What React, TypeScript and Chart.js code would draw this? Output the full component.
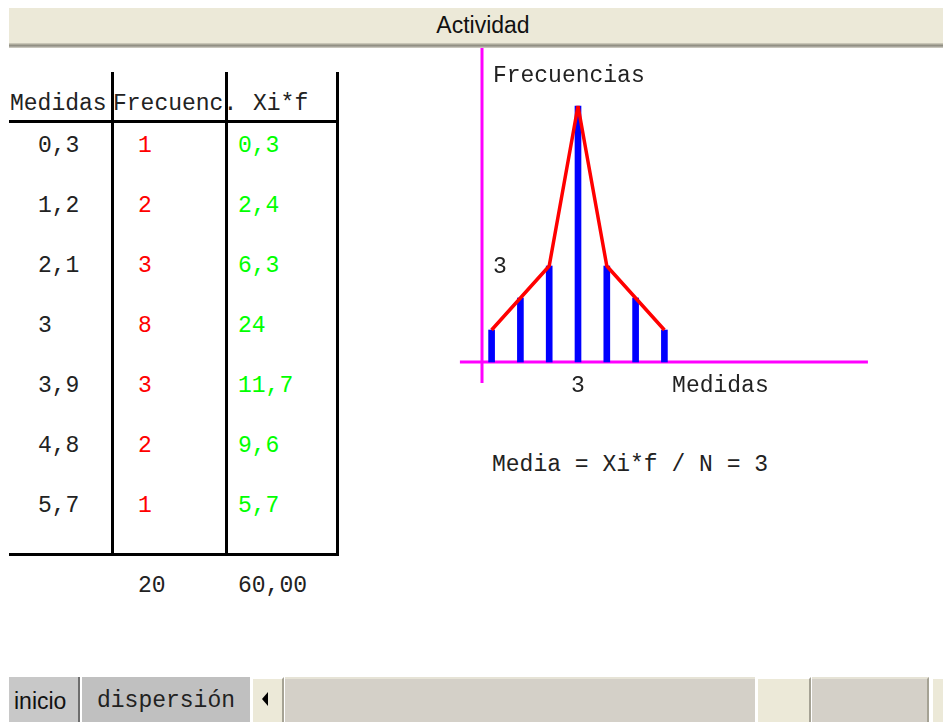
import React, { useEffect, useRef } from "react";
import { Chart, registerables } from "chart.js";

Chart.register(...registerables);

// ---- data ----
const medidas = [0.3, 1.2, 2.1, 3, 3.9, 4.8, 5.7];
const medidasLabels = ["0,3", "1,2", "2,1", "3", "3,9", "4,8", "5,7"];
const frecuencias = [1, 2, 3, 8, 3, 2, 1];
const xifLabels = ["0,3", "2,4", "6,3", "24", "11,7", "9,6", "5,7"];
const headers = ["Medidas", "Frecuenc.", "Xi*f"];
const totalFrec = "20";
const totalXif = "60,00";
const yTickLabel = "3";
const xTickLabel = "3";
const yTitle = "Frecuencias";
const xTitle = "Medidas";
const mediaText = "Media = Xi*f / N = 3";

const MONO = '"Liberation Mono", "Courier New", monospace';
const SANS = '"Liberation Sans", Arial, sans-serif';
const TEXT = "#222";

const axesPlugin = {
  id: "axesPlugin",
  beforeDatasetsDraw(chart: any) {
    const { ctx, scales } = chart;
    const xs = scales.x;
    const ys = scales.y;
    const x0 = xs.getPixelForValue(0);
    const y0 = ys.getPixelForValue(0);
    ctx.save();
    ctx.strokeStyle = "#ff00ff";
    ctx.lineWidth = 3;
    ctx.beginPath();
    ctx.moveTo(x0, ys.getPixelForValue(9.81));
    ctx.lineTo(x0, ys.getPixelForValue(-0.66));
    ctx.moveTo(xs.getPixelForValue(-0.69), y0);
    ctx.lineTo(xs.getPixelForValue(12.06), y0);
    ctx.stroke();
    ctx.restore();
  },
  afterDraw(chart: any) {
    const { ctx, scales } = chart;
    const xs = scales.x;
    const ys = scales.y;
    ctx.save();
    ctx.fillStyle = TEXT;
    ctx.font = "23px " + MONO;
    ctx.textBaseline = "middle";
    ctx.textAlign = "left";
    ctx.fillText(yTitle, xs.getPixelForValue(0.34), ys.getPixelForValue(8.95));
    ctx.fillText(yTickLabel, xs.getPixelForValue(0.34), ys.getPixelForValue(2.97));
    ctx.fillText(xTitle, xs.getPixelForValue(5.94), ys.getPixelForValue(-0.76));
    ctx.textAlign = "center";
    ctx.fillText(xTickLabel, xs.getPixelForValue(3), ys.getPixelForValue(-0.76));
    ctx.restore();
  },
};

function FreqChart() {
  const ref = useRef<HTMLCanvasElement | null>(null);
  useEffect(() => {
    if (!ref.current) return;
    const pts = medidas.map((m, i) => ({ x: m, y: frecuencias[i] }));
    const chart = new Chart(ref.current, {
      type: "bar",
      data: {
        datasets: [
          {
            type: "line",
            data: pts,
            borderColor: "#ff0000",
            borderWidth: 3.5,
            borderJoinStyle: "bevel",
            pointRadius: 0,
            tension: 0,
            order: 0,
          } as any,
          {
            type: "bar",
            data: pts,
            backgroundColor: "#0000ff",
            barThickness: 6,
            order: 1,
          } as any,
        ],
      },
      options: {
        animation: false,
        responsive: false,
        maintainAspectRatio: false,
        layout: { padding: 0 },
        plugins: { legend: { display: false }, tooltip: { enabled: false } },
        scales: {
          x: { type: "linear", min: -1.3125, max: 12.75, display: false, offset: false },
          y: { type: "linear", min: -1.375, max: 9.875, display: false },
        },
      },
      plugins: [axesPlugin],
    });
    return () => chart.destroy();
  }, []);
  return (
    <canvas
      ref={ref}
      width={450}
      height={360}
      style={{ position: "absolute", left: 440, top: 46, width: 450, height: 360 }}
    />
  );
}

function T(props: { x: number; cy: number; color?: string; children: any; font?: string; size?: number }) {
  return (
    <div
      style={{
        position: "absolute",
        left: props.x,
        top: props.cy - 14,
        height: 30,
        lineHeight: "30px",
        fontFamily: props.font || MONO,
        fontSize: props.size || 23,
        color: props.color || TEXT,
        whiteSpace: "nowrap",
      }}
    >
      {props.children}
    </div>
  );
}

function Line(props: { x: number; y: number; w: number; h: number }) {
  return (
    <div style={{ position: "absolute", left: props.x, top: props.y, width: props.w, height: props.h, background: "#000" }} />
  );
}

export default function App() {
  useEffect(() => {
    document.body.style.margin = "0";
    document.body.style.background = "#fff";
  }, []);
  const rowY = (i: number) => 145 + 60 * i;
  return (
    <div style={{ position: "relative", width: 943, height: 722, overflow: "hidden", background: "#fff" }}>
      {/* title bar */}
      <div style={{ position: "absolute", left: 9, top: 8, width: 934, height: 35, background: "#ece9d8" }} />
      <div
        style={{
          position: "absolute",
          left: 9,
          top: 43,
          width: 934,
          height: 5,
          background: "linear-gradient(#d6d3c4 0px, #b9b7a8 1px, #9d9b8d 2px, #85837a 3px, #c8c6bc 4px)",
        }}
      />
      <div
        style={{
          position: "absolute",
          left: 9,
          top: 8,
          width: 934,
          height: 35,
          lineHeight: "35px",
          textAlign: "center",
          fontFamily: SANS,
          fontSize: 23,
          color: "#111",
          paddingLeft: 14,
          boxSizing: "border-box",
        }}
      >
        Actividad
      </div>

      {/* table lines */}
      <Line x={111} y={72} w={3} h={484} />
      <Line x={225} y={72} w={3} h={484} />
      <Line x={336} y={72} w={3} h={484} />
      <Line x={9} y={120} w={330} h={3} />
      <Line x={9} y={553} w={330} h={3} />

      {/* headers */}
      <T x={10} cy={103}>{headers[0]}</T>
      <T x={113} cy={103}>{headers[1]}</T>
      <T x={253} cy={103}>{headers[2]}</T>

      {medidas.map((_, i) => (
        <React.Fragment key={i}>
          <T x={38} cy={rowY(i)}>{medidasLabels[i]}</T>
          <T x={138} cy={rowY(i)} color="#ff0000">{String(frecuencias[i])}</T>
          <T x={238} cy={rowY(i)} color="#00ff00">{xifLabels[i]}</T>
        </React.Fragment>
      ))}

      <T x={138} cy={585}>{totalFrec}</T>
      <T x={238} cy={585}>{totalXif}</T>

      <FreqChart />

      <T x={492} cy={464}>{mediaText}</T>

      {/* bottom bar */}
      <div style={{ position: "absolute", left: 9, top: 677, width: 71, height: 45, background: "#c8c8c8", borderRight: "2px solid #6e6e6e", boxSizing: "border-box" }} />
      <T x={14} cy={700} font={SANS} size={23} color="#111">inicio</T>
      <div style={{ position: "absolute", left: 82, top: 677, width: 168, height: 45, background: "#c0c0c0" }} />
      <T x={97} cy={700} color="#222">dispersión</T>
      <div style={{ position: "absolute", left: 251, top: 677, width: 33, height: 45, background: "#ece9d8", borderTop: "2px solid #fff", borderLeft: "2px solid #fff", borderRight: "2px solid #a5a294", boxSizing: "border-box" }} />
      <div style={{ position: "absolute", left: 262, top: 692, width: 0, height: 0, borderTop: "7px solid transparent", borderBottom: "7px solid transparent", borderRight: "6px solid #000" }} />
      <div style={{ position: "absolute", left: 285, top: 677, width: 470, height: 45, background: "#d4d0c8", borderTop: "2px solid #e6e3d6", boxSizing: "border-box" }} />
      <div style={{ position: "absolute", left: 756, top: 677, width: 55, height: 45, background: "#ece9d8", borderTop: "2px solid #fff", borderLeft: "2px solid #fff", borderRight: "2px solid #a5a294", boxSizing: "border-box" }} />
      <div style={{ position: "absolute", left: 812, top: 677, width: 117, height: 45, background: "#d4d0c8", borderTop: "2px solid #e6e3d6", borderRight: "2px solid #a5a294", boxSizing: "border-box" }} />
      <div style={{ position: "absolute", left: 931, top: 677, width: 12, height: 45, background: "#ece9d8", borderTop: "2px solid #fff", borderLeft: "2px solid #fff", boxSizing: "border-box" }} />
    </div>
  );
}
